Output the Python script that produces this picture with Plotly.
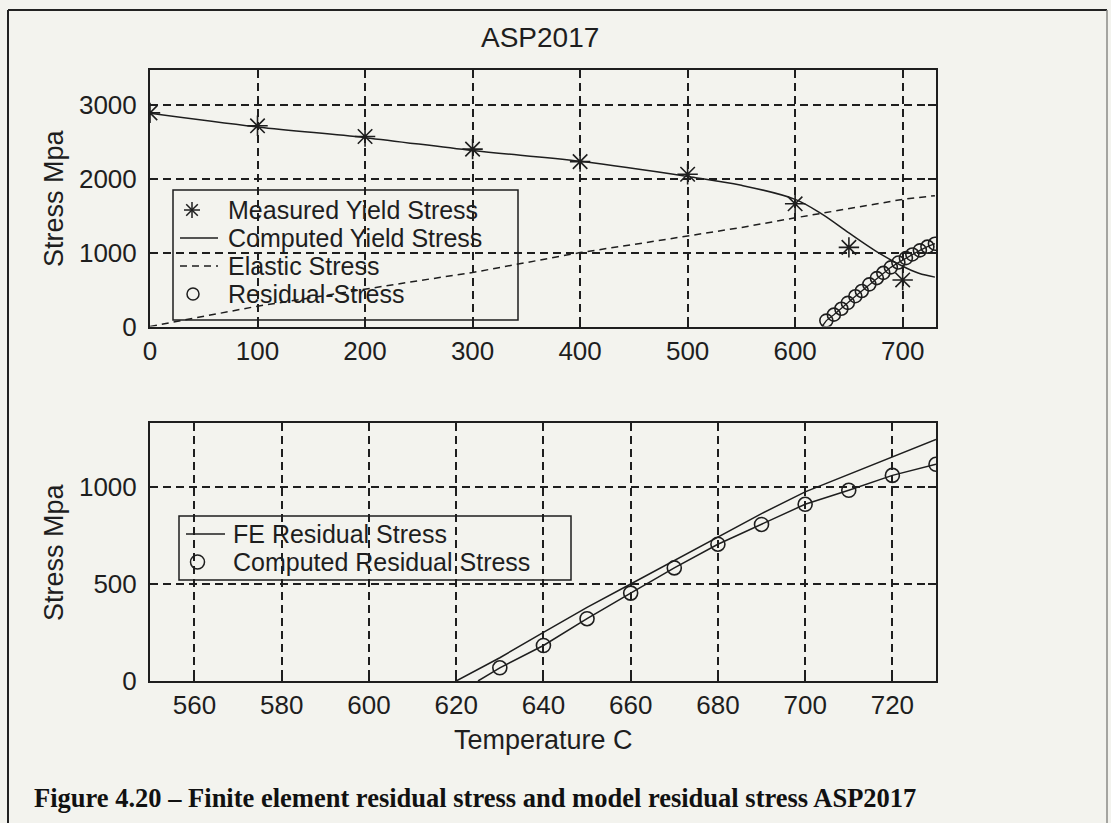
import plotly.graph_objects as go

# ---------------- data ----------------
meas_T = [0, 100, 200, 300, 400, 500, 600, 650, 700]
meas_S = [2890, 2715, 2570, 2400, 2230, 2060, 1660, 1070, 630]

yield_T = [0, 100, 200, 300, 400, 500, 550, 600, 625, 650, 675, 700, 715, 730]
yield_S = [2885, 2700, 2555, 2380, 2235, 2030, 1910, 1720, 1520, 1265, 1020, 815, 720, 668]

elas_T = [0, 50, 100, 150, 200, 250, 300, 350, 400, 450, 500, 550, 600, 650, 700, 730]
elas_S = [0, 140, 275, 390, 510, 620, 730, 870, 1000, 1110, 1220, 1340, 1470, 1600, 1720, 1770]

res_top_T = [629, 636, 643, 649, 656, 662, 669, 676, 682, 689, 696, 703, 709, 716, 723, 730]
res_top_S = [80, 160, 240, 320, 410, 480, 570, 655, 725, 800, 865, 925, 975, 1030, 1080, 1120]
res_top_line_T = [625] + res_top_T
res_top_line_S = [0] + res_top_S

fe_T = [620, 630, 640, 650, 660, 670, 680, 690, 700, 710, 720, 730]
fe_S = [0, 120, 251, 380, 500, 620, 744, 863, 975, 1065, 1155, 1245]

cres_T = [630, 640, 650, 660, 670, 680, 690, 700, 710, 720, 730]
cres_S = [68, 183, 321, 453, 583, 705, 807, 911, 983, 1060, 1117]
cres_line_T = [625] + cres_T
cres_line_S = [0] + cres_S

top_xticks = [0, 100, 200, 300, 400, 500, 600, 700]
top_yticks = [0, 1000, 2000, 3000]
bot_xticks = [560, 580, 600, 620, 640, 660, 680, 700, 720]
bot_yticks = [0, 500, 1000]

top_legend_labels = ["Measured Yield Stress", "Computed Yield Stress", "Elastic Stress", "Residual-Stress"]
bot_legend_labels = ["FE Residual Stress", "Computed Residual Stress"]

# ---------------- figure ----------------
FONT = "Liberation Sans, Arial, sans-serif"
BG = "#f3f3ee"
INK = "#1e1e1e"
W, H = 1111, 823
ML, MR, MT, MB = 150, 175, 70, 142
PW, PH = W - ML - MR, H - MT - MB


def xp(px):
    return (px - ML) / PW


def yp(py):
    return (H - MB - py) / PH


fig = go.Figure()

fig.add_trace(go.Scatter(x=meas_T, y=meas_S, mode="markers", name=top_legend_labels[0],
                         marker=dict(symbol="asterisk-open", size=17, color=INK, line=dict(width=1.6, color=INK)),
                         xaxis="x", yaxis="y"))
fig.add_trace(go.Scatter(x=yield_T, y=yield_S, mode="lines", name=top_legend_labels[1],
                         line=dict(color=INK, width=1.5), line_shape="spline",
                         xaxis="x", yaxis="y"))
fig.add_trace(go.Scatter(x=elas_T, y=elas_S, mode="lines", name=top_legend_labels[2],
                         line=dict(color=INK, width=1.5, dash="7px,5px"),
                         xaxis="x", yaxis="y"))
fig.add_trace(go.Scatter(x=res_top_line_T, y=res_top_line_S, mode="lines",
                         line=dict(color=INK, width=1.3), xaxis="x", yaxis="y"))
fig.add_trace(go.Scatter(x=res_top_T, y=res_top_S, mode="markers", name=top_legend_labels[3],
                         marker=dict(symbol="circle-open", size=13, color=INK, line=dict(width=1.6, color=INK)),
                         xaxis="x", yaxis="y"))

fig.add_trace(go.Scatter(x=fe_T, y=fe_S, mode="lines", name=bot_legend_labels[0],
                         line=dict(color=INK, width=1.5), xaxis="x2", yaxis="y2"))
fig.add_trace(go.Scatter(x=cres_line_T, y=cres_line_S, mode="lines",
                         line=dict(color=INK, width=1.5), xaxis="x2", yaxis="y2"))
fig.add_trace(go.Scatter(x=cres_T, y=cres_S, mode="markers", name=bot_legend_labels[1],
                         marker=dict(symbol="circle-open", size=14, color=INK, line=dict(width=1.6, color=INK)),
                         xaxis="x2", yaxis="y2"))

axis_common = dict(showline=True, linecolor=INK, linewidth=2, mirror="ticks",
                   ticks="inside", ticklen=8, tickwidth=1.5, tickcolor=INK,
                   showgrid=True, gridcolor=INK, gridwidth=1.5, griddash="8px,5px",
                   zeroline=False, tickfont=dict(family=FONT, size=26, color=INK))

fig.update_layout(
    width=W, height=H,
    margin=dict(l=ML, r=MR, t=MT, b=MB),
    paper_bgcolor=BG, plot_bgcolor=BG,
    font=dict(family=FONT, size=26, color=INK),
    showlegend=False,
    xaxis=dict(domain=[0, 1], anchor="y", range=[0, 731], tickvals=top_xticks,
               ticklabelstandoff=0, **axis_common),
    yaxis=dict(domain=[yp(326.5), 1.0], anchor="x", range=[0, 3470], tickvals=top_yticks,
               ticklabelstandoff=6, **axis_common),
    xaxis2=dict(domain=[0, 1], anchor="y2", range=[549.8, 730], tickvals=bot_xticks,
                ticklabelstandoff=0, **axis_common),
    yaxis2=dict(domain=[0, yp(423)], anchor="x2", range=[0, 1330], tickvals=bot_yticks,
                ticklabelstandoff=6, **axis_common),
)

ann = [
    dict(text="ASP2017", x=xp(540), y=yp(37), xref="paper", yref="paper",
         showarrow=False, xanchor="center", yanchor="middle", font=dict(family=FONT, size=28, color=INK)),
    dict(text="Stress Mpa", x=xp(54), y=yp(198), xref="paper", yref="paper",
         showarrow=False, xanchor="center", yanchor="middle", textangle=-90,
         font=dict(family=FONT, size=27, color=INK)),
    dict(text="Stress Mpa", x=xp(54), y=yp(552), xref="paper", yref="paper",
         showarrow=False, xanchor="center", yanchor="middle", textangle=-90,
         font=dict(family=FONT, size=27, color=INK)),
    dict(text="Temperature C", x=xp(543), y=yp(740), xref="paper", yref="paper",
         showarrow=False, xanchor="center", yanchor="middle", font=dict(family=FONT, size=27, color=INK)),
    dict(text="<b>Figure 4.20 \u2013 Finite element residual stress and model residual stress ASP2017</b>",
         x=xp(32), y=yp(798), xref="paper", yref="paper",
         showarrow=False, xanchor="left", yanchor="middle",
         font=dict(family="Liberation Serif, Times New Roman, serif", size=26.5, color="#111111")),
]

shapes = []
LEG_FONT = 25


def legend_box(x0, y0, x1, y1):
    shapes.append(dict(type="rect", xref="paper", yref="paper", x0=xp(x0), x1=xp(x1), y0=yp(y1), y1=yp(y0),
                       line=dict(color=INK, width=1.5), fillcolor="rgba(0,0,0,0)"))


def legend_text(label, px, py):
    ann.append(dict(text=label, x=xp(px), y=yp(py), xref="paper", yref="paper", showarrow=False,
                    xanchor="left", yanchor="middle", borderpad=0,
                    font=dict(family=FONT, size=LEG_FONT, color=INK)))


def seg(x0, y0, x1, y1, width=1.5, dash=None):
    ln = dict(color=INK, width=width)
    if dash:
        ln["dash"] = dash
    shapes.append(dict(type="line", xref="paper", yref="paper", x0=xp(x0), x1=xp(x1), y0=yp(y0), y1=yp(y1), line=ln))


def circ(cx, cy, r):
    shapes.append(dict(type="circle", xref="paper", yref="paper", x0=xp(cx - r), x1=xp(cx + r),
                       y0=yp(cy + r), y1=yp(cy - r), line=dict(color=INK, width=1.5)))


def aster(cx, cy, r):
    d = r * 0.72
    seg(cx - r, cy, cx + r, cy)
    seg(cx, cy - r, cx, cy + r)
    seg(cx - d, cy - d, cx + d, cy + d)
    seg(cx - d, cy + d, cx + d, cy - d)


# top legend
legend_box(173, 190, 518, 320)
top_rows = [210, 238, 266, 294]
aster(192, top_rows[0], 8)
seg(180, top_rows[1], 218, top_rows[1])
seg(180, top_rows[2], 218, top_rows[2], dash="7px,5px")
circ(193, top_rows[3], 6)
for lab, ry in zip(top_legend_labels, top_rows):
    legend_text(lab, 227, ry)

# bottom legend
legend_box(179, 516, 571, 580)
bot_rows = [534, 562]
seg(186, bot_rows[0], 225, bot_rows[0])
circ(197.5, bot_rows[1], 7)
for lab, ry in zip(bot_legend_labels, bot_rows):
    legend_text(lab, 232, ry)

# ---- outer frame of the scanned figure box ----
fx0, fx1 = 8, 1107
shapes.append(dict(type="line", xref="paper", yref="paper", x0=xp(fx0), x1=xp(fx0), y0=yp(840), y1=yp(10),
                   line=dict(color="#222222", width=2)))
shapes.append(dict(type="line", xref="paper", yref="paper", x0=xp(fx0), x1=xp(fx1), y0=yp(10), y1=yp(10),
                   line=dict(color="#222222", width=2)))
shapes.append(dict(type="line", xref="paper", yref="paper", x0=xp(fx1), x1=xp(fx1), y0=yp(840), y1=yp(10),
                   line=dict(color="#8a8a86", width=1.5)))

fig.update_layout(annotations=ann, shapes=shapes)

fig.write_html("out.html", config={"displayModeBar": False},
               post_script="document.body.style.margin='0px';document.body.style.overflow='hidden';")
